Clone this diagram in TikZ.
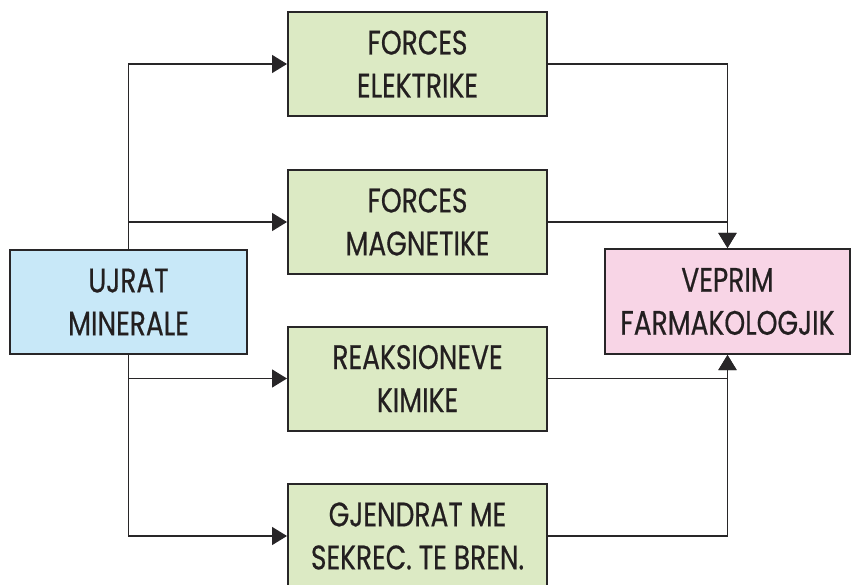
\documentclass[tikz,border=0pt]{standalone}
\usepackage{fontspec}
\setmainfont{Poppins}[FakeStretch=0.78,FakeBold=0.5]
\usetikzlibrary{arrows.meta}
\definecolor{bluefill}{RGB}{200,232,248}
\definecolor{greenfill}{RGB}{220,234,196}
\definecolor{pinkfill}{RGB}{248,213,230}
\definecolor{linec}{RGB}{40,38,40}
\definecolor{textc}{RGB}{35,31,32}
\tikzset{
  boxnode/.style={draw=linec, line width=2pt, align=center, inner sep=0pt,
    text=textc, font=\fontsize{34}{43}\selectfont},
  gbox/.style={boxnode, fill=greenfill, minimum width=259pt, minimum height=104pt},
  conn/.style={draw=linec, line width=1.5pt, -{Triangle[length=15pt,width=18pt]}},
}
\begin{document}
\begin{tikzpicture}[x=1pt,y=-1pt]
\useasboundingbox (0,0) rectangle (851,585);
\clip (0,0) rectangle (851,585);
\node[boxnode, fill=bluefill, minimum width=237pt, minimum height=104pt] (uj) at (128.5,302) {UJRAT\\MINERALE};
\node[gbox] (b1) at (417.5,64) {FORCES\\ELEKTRIKE};
\node[gbox] (b2) at (417.5,222) {FORCES\\MAGNETIKE};
\node[gbox] (b3) at (417.5,378.5) {REAKSIONEVE\\KIMIKE};
\node[gbox] (b4) at (417.5,536) {GJENDRAT ME\\SEKREC. TE BREN.};
\node[boxnode, fill=pinkfill, minimum width=245pt, minimum height=105pt] (pk) at (727.5,301.5) {VEPRIM\\FARMAKOLOGJIK};
\draw[conn] (uj.north) |- (b1.west);
\draw[conn] (uj.north) |- (b2.west);
\draw[conn] (uj.south) |- (b3.west);
\draw[conn] (uj.south) |- (b4.west);
\draw[conn] (b1.east) -| (pk.north);
\draw[conn] (b2.east) -| (pk.north);
\draw[conn] (b3.east) -| (pk.south);
\draw[conn] (b4.east) -| (pk.south);
\end{tikzpicture}
\end{document}
